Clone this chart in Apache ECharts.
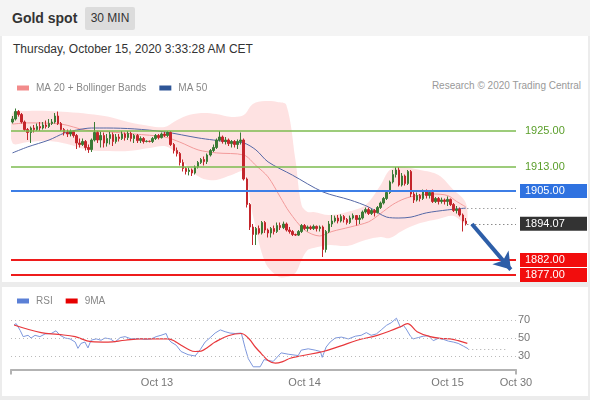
<!DOCTYPE html>
<html lang="en">
<head>
<meta charset="UTF-8">
<title>Gold spot</title>
<script src="https://cdn.jsdelivr.net/npm/echarts@6/dist/echarts.min.js"></script>
<style>
  html, body { margin: 0; padding: 0; }
  body { width: 590px; height: 400px; background: #ececec; position: relative; overflow: hidden;
         font-family: "Liberation Sans", Arial, sans-serif; }
  .head { position: absolute; left: 0; top: 0; width: 590px; height: 36px; background: #f4f4f4; }
  .title { position: absolute; left: 12px; top: 10px; font-size: 14px; font-weight: bold; color: #333; }
  .badge { position: absolute; left: 85px; top: 7px; width: 50px; height: 23px; line-height: 23px;
           text-align: center; background: #dcdcdc; font-size: 12px; color: #333; border-radius: 2px; }
  .panel { position: absolute; left: 2px; width: 586px; background: #fff; }
  #p1 { top: 36px; height: 246px; }
  #p2 { top: 287px; height: 109px; }
  .date { position: absolute; left: 13px; top: 42px; font-size: 12px; color: #333; }
  .credit { position: absolute; right: 9px; top: 80px; font-size: 10px; color: #999; }
  #chart { position: absolute; left: 0; top: 0; width: 590px; height: 400px; }
</style>
</head>
<body>
  <div class="head">
    <div class="title">Gold spot</div>
    <div class="badge">30 MIN</div>
  </div>
  <div class="panel" id="p1"></div>
  <div class="panel" id="p2"></div>
  <div class="date">Thursday, October 15, 2020 3:33:28 AM CET</div>
  <div class="credit">Research &copy; 2020 Trading Central</div>
  <div id="chart"></div>

<script>
// 30 min candles, [open, close, low, high]
var candles = [
  [1928,1929,1927.5,1930],[1929,1931.5,1928.5,1932.5],[1931.5,1930.5,1929.8,1932],[1930.5,1928,1927.5,1931],
  [1928,1925.5,1925,1928.5],[1925.5,1924.5,1922,1926],[1924.5,1926,1921,1926.5],[1926,1925.5,1924.5,1927],
  [1925.5,1926.5,1925,1927.5],[1926.5,1926,1925,1928],[1926,1927,1925.5,1928],[1927,1926.5,1925.8,1928.5],
  [1926.5,1927.5,1926,1929],[1927.5,1928,1927,1929],[1928,1930,1927.5,1931],[1930,1927.5,1927,1931.5],
  [1927.5,1925.5,1925,1928],[1925.5,1924.5,1923.5,1926],[1924.5,1924,1923,1925.5],[1924,1924.8,1923.2,1925.5],
  [1924.8,1923.5,1922.8,1925.2],[1923.5,1921,1919,1924],[1921,1920.5,1919.5,1922.5],[1920.5,1921.5,1920,1922.5],
  [1921.5,1919.5,1918.5,1922],[1919.5,1918.8,1917.7,1920.5],[1918.8,1922,1918,1922.5],[1922,1924.5,1921.5,1928],
  [1924.5,1922,1921,1925],[1922,1923.5,1919.5,1924.8],[1923.5,1921,1919.5,1924.5],[1921,1922.5,1919.8,1924],
  [1922.5,1923.8,1920.5,1924.8],[1923.8,1921.5,1920,1924.5],[1921.5,1923,1920.8,1924],[1923,1922.5,1921.5,1924],
  [1922.5,1924,1922,1925],[1924,1922.8,1921.8,1924.5],[1922.8,1924.2,1922,1925],[1924.2,1922.5,1921.5,1924.8],
  [1922.5,1923.5,1921,1924],[1923.5,1921.8,1921,1924],[1921.8,1922.5,1921,1923.2],[1922.5,1921.5,1920.8,1923],
  [1921.5,1921.6,1921.2,1921.9],[1921.6,1921.5,1921.2,1921.8],[1921.5,1922.5,1921,1923],[1922.5,1923.5,1922,1924],
  [1923.5,1922.8,1922.2,1924],[1922.8,1924,1922.5,1924.5],[1924,1923.5,1923,1924.8],[1923.5,1924.5,1923,1925],
  [1924.5,1920.5,1920,1925],[1920.5,1918.5,1917.5,1921],[1918.5,1917.5,1916.5,1919.5],[1917.5,1914.5,1913.5,1918],
  [1914.5,1912.5,1911.5,1915.5],[1912.5,1911.5,1910.5,1913],[1911.5,1912,1910.2,1912.8],[1912,1911,1910,1912.5],
  [1911,1913,1910.5,1913.5],[1913,1914.5,1912.5,1915],[1914.5,1915.5,1914,1916],[1915.5,1914.8,1913.5,1916.5],
  [1914.8,1917,1914,1917.5],[1917,1918.5,1916.5,1919],[1918.5,1919.5,1918,1920.5],[1919.5,1922,1919,1922.5],
  [1922,1923,1921.5,1925],[1923,1921.5,1920.8,1923.5],[1921.5,1922,1920.5,1923],[1922,1920.8,1920,1922.5],
  [1920.8,1921.5,1919.5,1922],[1921.5,1920.5,1919.5,1922],[1920.5,1921.5,1919,1922.2],[1921.5,1922,1920.5,1924.5],
  [1922,1909,1908.5,1922.5],[1909,1900.5,1899.5,1909.5],[1900.5,1893,1892,1901],[1893,1890.5,1887,1894],
  [1890.5,1892.5,1887,1893],[1892.5,1891,1890.5,1893.5],[1891,1894.5,1890.5,1895],[1894.5,1892,1891,1895],
  [1892,1891,1889.5,1892.5],[1891,1892.5,1889.5,1893],[1892.5,1891.5,1890.5,1893.5],[1891.5,1893.5,1891,1894.5],
  [1893.5,1892.8,1892,1894.5],[1892.8,1894,1892.3,1894.8],[1894,1892,1891.5,1894.5],[1892,1891.5,1890.8,1893],
  [1891.5,1890.5,1890,1892],[1890.5,1890.3,1890,1890.8],[1890.3,1891.5,1890,1892],[1891.5,1893.5,1891,1894],
  [1893.5,1892.5,1892,1894],[1892.5,1893,1891.5,1893.5],[1893,1892.5,1892,1893.5],[1892.5,1893.2,1892,1893.8],
  [1893.2,1892.5,1891.5,1893.5],[1892.5,1893,1891.5,1893.5],[1893,1885.5,1883,1893.5],[1885.5,1891.5,1884.5,1892],
  [1891.5,1894,1891,1895],[1894,1895,1893,1897],[1895,1896,1894.5,1896.8],[1896,1895,1894.2,1897],
  [1895,1896.5,1894.5,1897.2],[1896.5,1895.5,1894.5,1897],[1895.5,1894.5,1893.8,1896],[1894.5,1896,1894,1896.8],
  [1896,1896.8,1895.5,1897.5],[1896.8,1895.5,1893.5,1897],[1895.5,1896,1894,1897],[1896,1898,1895.5,1898.5],
  [1898,1898.8,1897.5,1899.5],[1898.8,1897.5,1897,1899.5],[1897.5,1898.5,1897,1899],[1898.5,1897.8,1896.5,1899],
  [1897.8,1899.5,1897.5,1900],[1899.5,1901,1899,1901.5],[1901,1902.5,1900.5,1903],[1902.5,1904.5,1902,1905],
  [1904.5,1908,1904,1908.5],[1908,1910.5,1907.5,1912],[1910.5,1912,1909.5,1913],[1912,1907,1906.5,1913],
  [1907,1910,1906.5,1911],[1910,1907.5,1906.8,1910.5],[1907.5,1911.5,1907,1912],[1911.5,1904,1903,1912],
  [1904,1902,1901,1905],[1902,1903.5,1901.5,1904.5],[1903.5,1902.5,1901.5,1904],[1902.5,1905,1902,1905.5],
  [1905,1903.5,1902.5,1905.5],[1903.5,1904.5,1902.5,1905],[1904.5,1901.5,1901,1905.5],[1901.5,1902.5,1901,1903],
  [1902.5,1901.5,1900.5,1903],[1901.5,1902,1900.8,1902.8],[1902,1901.5,1900.5,1902.5],[1901.5,1902.2,1900,1903.2],
  [1902.2,1900.5,1900,1902.5],[1900.5,1898.5,1898,1901],[1898.5,1899,1897.5,1900],[1899,1897,1896.5,1899.5],
  [1897,1895,1891.5,1897.5],[1895,1894.07,1893.5,1896]
];

// moving averages read at candle index
var ma20 = [[0,1927.3],[5,1927.7],[16,1927.3],[24,1925.3],[32,1924.7],[40,1924],[50,1923],[55,1921.3],
  [61,1918.7],[67,1917.7],[76,1917],[80,1913.5],[84,1909.7],[88,1903],[91,1898],[96,1892],[101,1890],
  [105,1891.5],[111,1893],[117,1894.7],[121,1897.5],[125,1900.5],[129,1902.5],[133,1903.5],[138,1904],
  [143,1903.5],[146,1901.5],[149,1899.7]];
var ma50 = [[0,1917.7],[5,1919.7],[12,1922],[17,1924.3],[21,1925.3],[26,1926],[31,1926],[40,1925.7],
  [50,1924.7],[61,1922.7],[66,1922],[72,1921.3],[76,1921],[80,1918.7],[84,1914.7],[92,1910.3],[102,1904.7],
  [111,1902],[117,1899.7],[123,1896.3],[127,1896],[131,1896.3],[136,1897.7],[143,1898.7],[149,1899.3]];

// bollinger bands
var bbIdx   = [0,5,12,18,25,32,38,45,50,53,57,62,67,72,76,79,83,87,90,93,95,97,99,104,110,116,121,124,128,134,140,145,149];
var bbUpper = [1931,1931.7,1931.7,1931.3,1930.7,1929.7,1928,1926.7,1926.3,1928,1930,1931,1930.7,1929.7,1930.3,
  1934,1935,1934.7,1933.7,1915.3,1900.3,1898,1898,1897,1898,1900.3,1907,1912,1913,1912,1910.3,1905.3,1901];
var bbLower = [1921,1921.3,1921.7,1920.7,1918.7,1918.3,1918.3,1919.3,1920,1918.3,1913.7,1909.3,1908.7,1910.3,
  1911.3,1897,1881.3,1876.7,1876.3,1877.7,1882,1885.3,1886,1887,1886.7,1888.7,1889.7,1889.3,1891.7,1894.3,
  1895.7,1896.7,1894.3];

// RSI panel
var rsi = [[0.5,64.5],[1.2,66],[2.5,58.5],[3.5,51.5],[5.1,53],[6.1,50],[7.4,53],[9,51.5],[10.7,54.5],
  [12.7,55],[14.3,58],[15.6,53],[17.3,50],[18.9,49],[20.6,45.5],[21.5,38.5],[22.5,44],[23.8,45.5],[24.8,39],
  [25.8,47.5],[27.5,49],[29.1,47.5],[30.4,50],[32.1,49],[33.7,45.5],[35.4,50.5],[37,51.5],[39,49],[41.3,49.5],
  [43.6,48.5],[45.6,49],[47.2,51.5],[48.8,53],[50.5,55],[51.2,49],[52.1,45.5],[53.8,42],[55.4,35],[57.7,31.5],
  [60,30],[61.7,37],[63.3,45.5],[65,50.5],[66.6,55.5],[68.3,59],[69.9,57],[71.5,55.5],[73.2,55],[75.2,55.5],
  [76.5,38.5],[77.5,27],[79.1,18],[81.4,18],[82.7,26],[85.7,24],[88.3,33.5],[90.6,32],[93.9,30.5],[94.9,36.5],
  [97.2,38],[99.5,36.5],[101.2,35],[101.8,28.5],[103.1,40],[104.4,45.5],[106.1,50],[108.1,51],[110.4,49],
  [112.7,52],[114.6,53],[116.3,56],[117.9,53],[119.6,54.5],[121.2,59],[122.9,64],[124.5,67],[126.2,72],
  [127.5,62],[128.5,64],[129.4,60],[130.8,52],[131.7,49],[133.4,50.5],[135,52],[136.7,52.5],[138.3,47],
  [139.9,49.5],[141.6,48.5],[143.3,46.5],[144.9,45.5],[146.5,44],[148.2,41],[149.8,38]];
var rsiMa = [[0.5,64.5],[9.4,56],[15,54],[20.6,51.5],[25.8,46],[31.4,45.5],[37,47.5],[42.3,49],[47.9,49],
  [51.2,49],[53.5,46],[55.4,42],[57.7,37.5],[60,35],[62,35.5],[64.3,40],[66.6,45.5],[70.9,52.5],[75.2,55],
  [77.5,50],[79.8,40],[81.7,33],[84,25],[86.4,22],[89,24],[91.3,27.5],[94.6,30],[102.1,35],[107.7,41],
  [113.3,47.5],[119.9,53],[124.2,58],[127.5,62.5],[129.8,66],[133,57],[137.3,51.5],[140.6,49.6],[143.9,49],
  [146.5,47],[149.5,44]];
var rsiLevels = [70, 50, 30];

// price levels
var greenLevels = [1925, 1913];
var blueLevel = 1905;
var redLevels = [1882, 1877];
var lastPrice = 1894.07;
var lastMa = 1899.3;
var lastRsi = 38;
var arrowFrom = [151, 1894];
var arrowTo = [163.8, 1878.8];

// x axis labels (candle index)
var tickPos = [47.5, 96, 143, 165.5];
var tickLabels = ['Oct 13', 'Oct 14', 'Oct 15', 'Oct 30'];

var xMin = -0.5, xMax = 165.5;
var font = '"Liberation Sans", Arial, sans-serif';

var chart = echarts.init(document.getElementById('chart'));

var candleData = candles.map(function (d, i) { return [i, d[0], d[1], d[2], d[3]]; });

// band drawn as one polygon: upper edge left to right, lower edge back
function renderBand(params, api) {
  var pts = [];
  bbIdx.forEach(function (x, k) { pts.push(api.coord([x, bbUpper[k]])); });
  for (var k = bbIdx.length - 1; k >= 0; k--) pts.push(api.coord([bbIdx[k], bbLower[k]]));
  return { type: 'polygon', shape: { points: pts, smooth: 0.35 },
           style: { fill: 'rgba(250,110,110,0.2)', stroke: 'none' } };
}

function labelStyle(text, color, bg) {
  var l = { show: true, position: 'end', distance: 4, color: color, fontSize: 11,
            padding: [2, 7, 1, 5], width: 55, formatter: text };
  if (bg) l.backgroundColor = bg;
  return l;
}

var levelLines = [];
greenLevels.forEach(function (v) {
  levelLines.push({ yAxis: v, lineStyle: { color: '#7dbb4f', width: 1.5, type: 'solid' },
                    label: labelStyle(v.toFixed(2), '#5a9e2a') });
});
levelLines.push({ yAxis: blueLevel, lineStyle: { color: '#3d7ee6', width: 2, type: 'solid' },
                  label: labelStyle(blueLevel.toFixed(2), '#fff', '#2f72e0') });
redLevels.forEach(function (v) {
  levelLines.push({ yAxis: v, lineStyle: { color: '#ee1c1c', width: 2, type: 'solid' },
                    label: labelStyle(v.toFixed(2), '#fff', '#f20d0d') });
});
levelLines.push([
  { coord: [candles.length - 0.5, lastPrice], lineStyle: { color: '#555', width: 1, type: [1, 3] },
    label: labelStyle(lastPrice.toFixed(2), '#fff', '#333') },
  { coord: [xMax, lastPrice] }
]);
levelLines.push([
  { coord: [candles.length - 0.5, lastMa], lineStyle: { color: '#777', width: 1, type: [1, 3] }, label: { show: false } },
  { coord: [xMax, lastMa] }
]);
levelLines.push([
  { coord: arrowFrom, symbol: 'none', lineStyle: { color: '#2d5ea8', width: 4, type: 'solid' }, label: { show: false } },
  { coord: arrowTo, symbol: 'arrow', symbolSize: 16 }
]);

var rsiLines = rsiLevels.map(function (v) {
  return { yAxis: v, lineStyle: { color: '#bbb', width: 1, type: [1, 3] },
    label: { show: true, position: 'end', distance: 2, color: '#777', fontSize: 11, formatter: String(v) } };
});
rsiLines.push([
  { coord: [rsi[rsi.length - 1][0], lastRsi], lineStyle: { color: '#aaa', width: 1, type: [1, 3] }, label: { show: false } },
  { coord: [xMax - 3, lastRsi] }
]);

var option = {
  animation: false,
  textStyle: { fontFamily: font },
  legend: [
    { left: 12, top: 78, itemWidth: 12, itemHeight: 5, itemGap: 13, icon: 'rect',
      textStyle: { fontSize: 10, color: '#888', padding: [0, 0, 0, 2] },
      data: [{ name: 'MA 20 + Bollinger Bands', itemStyle: { color: '#f28b8b' } },
             { name: 'MA 50', itemStyle: { color: '#2e5597' } }] },
    { left: 12, top: 291, itemWidth: 12, itemHeight: 5, itemGap: 13, icon: 'rect',
      textStyle: { fontSize: 10, color: '#888', padding: [0, 0, 0, 2] },
      data: [{ name: 'RSI', itemStyle: { color: '#5b80d6' } },
             { name: '9MA', itemStyle: { color: '#e60000' } }] }
  ],
  grid: [
    { left: 11, right: 74, top: 101, height: 180 },
    { left: 11, right: 74, top: 311, height: 58.5 }
  ],
  xAxis: [
    { type: 'value', gridIndex: 0, min: xMin, max: xMax, show: false },
    { type: 'value', gridIndex: 1, min: xMin, max: xMax, splitLine: { show: false },
      axisLine: { onZero: false, lineStyle: { color: '#b3b3b3', width: 2 } },
      axisTick: { customValues: [xMin, xMax], length: 5, lineStyle: { color: '#b3b3b3', width: 2 } },
      axisLabel: { customValues: tickPos, color: '#777', fontSize: 11, margin: 8,
                   formatter: function (v) { var k = tickPos.indexOf(v); return k < 0 ? '' : tickLabels[k]; } } }
  ],
  yAxis: [
    { type: 'value', gridIndex: 0, min: 1875, max: 1935, show: false, splitLine: { show: false } },
    { type: 'value', gridIndex: 1, min: 15, max: 80, show: false, splitLine: { show: false } }
  ],
  series: [
    { name: 'band', type: 'custom', xAxisIndex: 0, yAxisIndex: 0, data: [0], renderItem: renderBand,
      clip: true, silent: true, z: 1 },
    { name: 'MA 20 + Bollinger Bands', type: 'line', xAxisIndex: 0, yAxisIndex: 0, data: ma20,
      symbol: 'none', smooth: 0.3, itemStyle: { color: '#f28b8b' }, lineStyle: { color: '#f29a9a', width: 1 }, z: 2 },
    { name: 'MA 50', type: 'line', xAxisIndex: 0, yAxisIndex: 0, data: ma50,
      symbol: 'none', smooth: 0.3, itemStyle: { color: '#2e5597' }, lineStyle: { color: '#5568a6', width: 1 }, z: 2 },
    { name: 'Gold', type: 'candlestick', xAxisIndex: 0, yAxisIndex: 0, data: candleData, barWidth: 2, z: 3,
      itemStyle: { color: '#3b7a35', color0: '#c4262c', borderColor: '#3b7a35', borderColor0: '#c4262c', borderWidth: 1 },
      markLine: { silent: true, symbol: 'none', animation: false, data: levelLines } },
    { name: 'RSI', type: 'line', xAxisIndex: 1, yAxisIndex: 1, data: rsi, symbol: 'none',
      itemStyle: { color: '#5b80d6' }, lineStyle: { color: '#7d97dc', width: 1 },
      markLine: { silent: true, symbol: 'none', animation: false, data: rsiLines } },
    { name: '9MA', type: 'line', xAxisIndex: 1, yAxisIndex: 1, data: rsiMa, symbol: 'none', smooth: 0.4,
      itemStyle: { color: '#e60000' }, lineStyle: { color: '#e8383c', width: 1.2 } }
  ]
};

chart.setOption(option);
</script>
</body>
</html>
